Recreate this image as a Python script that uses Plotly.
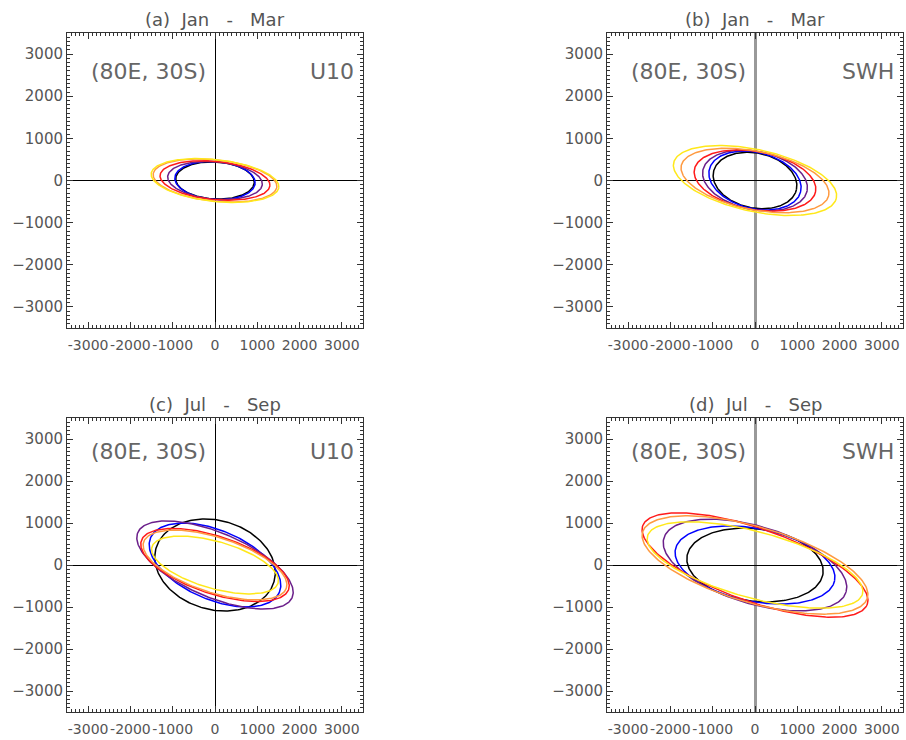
import numpy as np
import plotly.graph_objects as go
from plotly.subplots import make_subplots

# ---- data: ellipse parameters (semi-major, semi-minor, orientation in degrees) ----
series_colors = ["#000000", "#0000ff", "#6b1f8a", "#ff1a1a", "#ff9a40", "#ffe81a"]

panel_titles = ["(a)\u00a0\u00a0Jan\u00a0\u00a0\u00a0-\u00a0\u00a0\u00a0Mar",
                "(b)\u00a0\u00a0Jan\u00a0\u00a0\u00a0-\u00a0\u00a0\u00a0Mar",
                "(c)\u00a0\u00a0Jul\u00a0\u00a0\u00a0-\u00a0\u00a0\u00a0Sep",
                "(d)\u00a0\u00a0Jul\u00a0\u00a0\u00a0-\u00a0\u00a0\u00a0Sep"]
panel_vars = ["U10", "SWH", "U10", "SWH"]
location_label = "(80E,\u00a030S)"

# panel (a) U10 Jan-Mar
a_major = [930, 952, 1123, 1305, 1470, 1518]
a_minor = [440, 451, 444, 454, 490, 496]
a_angle = [-3.0, -4.1, -4.9, -5.5, -6.0, -6.2]

# panel (b) SWH Jan-Mar
b_major = [1003, 1112, 1257, 1457, 1779, 1969]
b_minor = [651, 666, 690, 690, 693, 734]
b_angle = [-12.2, -13.9, -11.3, -10.3, -11.4, -12.3]

# panel (c) U10 Jul-Sep
c_major = [1451, 1656, 1982, 1836, 1775, 1553]
c_minor = [1061, 823, 769, 684, 656, 560]
c_angle = [-16.0, -23.2, -23.0, -18.4, -18.0, -16.1]

# panel (d) SWH Jul-Sep
d_major = [1621, 1919, 2248, 2815, 2772, 2634]
d_minor = [863, 868, 921, 869, 903, 790]
d_angle = [-7.1, -11.2, -16.6, -19.4, -16.5, -15.2]

tick_vals = [-3000, -2000, -1000, 0, 1000, 2000, 3000]
x_tick_text = ["-3000", "-2000", "-1000", "0", "1000", "2000", "3000"]
y_tick_text = ["\u22123000", "\u22122000", "\u22121000", "0", "1000", "2000", "3000"]
axis_range = [-3500, 3500]

panels = [(a_major, a_minor, a_angle), (b_major, b_minor, b_angle),
          (c_major, c_minor, c_angle), (d_major, d_minor, d_angle)]


def ellipse(a, b, ang_deg, n=241):
    t = np.linspace(0, 2 * np.pi, n)
    th = np.deg2rad(ang_deg)
    x = a * np.cos(t) * np.cos(th) - b * np.sin(t) * np.sin(th)
    y = a * np.cos(t) * np.sin(th) + b * np.sin(t) * np.cos(th)
    return x, y


fig = make_subplots(rows=2, cols=2)
positions = [(1, 1), (1, 2), (2, 1), (2, 2)]

for (maj, mino, ang), (r, c) in zip(panels, positions):
    for k in range(len(maj)):
        x, y = ellipse(maj[k], mino[k], ang[k])
        fig.add_trace(go.Scatter(x=x, y=y, mode="lines",
                                 line=dict(color=series_colors[k], width=1.5),
                                 showlegend=False, hoverinfo="skip"),
                      row=r, col=c)

W, H = 906, 740
xdoms = [[67 / W, 363 / W], [607 / W, 903 / W]]
ydoms = [[1 - 328 / H, 1 - 33 / H], [1 - 712 / H, 1 - 418 / H]]

for i, (r, c) in enumerate(positions):
    idx = "" if i == 0 else str(i + 1)
    vzero_col = "#000000" if c == 1 else "#999999"
    vzero_w = 1 if c == 1 else 3
    common = dict(range=axis_range, tickvals=tick_vals, ticks="inside", ticklen=6,
                  tickcolor="#333333", showline=True, linecolor="#333333", linewidth=1,
                  mirror="allticks", showgrid=False,
                  tickangle=0, automargin=False,
                  minor=dict(dtick=100, tick0=0, ticks="inside", ticklen=3,
                             tickcolor="#333333", showgrid=False))
    fig.layout["xaxis" + idx].update(domain=xdoms[c - 1], zeroline=True,
                                     zerolinecolor=vzero_col, zerolinewidth=vzero_w,
                                     ticktext=x_tick_text, ticklabelstandoff=4,
                                     tickfont=dict(family="DejaVu Sans", size=14, color="#555555"),
                                     **common)
    fig.layout["yaxis" + idx].update(domain=ydoms[r - 1], zeroline=True,
                                     zerolinecolor="#000000", zerolinewidth=1,
                                     ticktext=y_tick_text,
                                     tickfont=dict(family="DejaVu Sans", size=15, color="#555555"),
                                     **common)
    xr = "x" + idx + " domain"
    yr = "y" + idx + " domain"
    ty = 0.87 if r == 1 else 0.885
    fig.add_annotation(xref=xr, yref=yr, x=0.5, y=1.046, text=panel_titles[i],
                       showarrow=False, xanchor="center", yanchor="middle",
                       font=dict(family="DejaVu Sans", size=18, color="#555555"))
    fig.add_annotation(xref=xr, yref=yr, x=0.274, y=ty, text=location_label,
                       showarrow=False, xanchor="center", yanchor="middle",
                       font=dict(family="DejaVu Sans", size=22, color="#666666"))
    fig.add_annotation(xref=xr, yref=yr, x=0.975, y=ty, text=panel_vars[i],
                       showarrow=False, xanchor="right", yanchor="middle",
                       font=dict(family="DejaVu Sans", size=22, color="#666666"))

fig.update_layout(width=W, height=H, margin=dict(l=0, r=0, t=0, b=0),
                  plot_bgcolor="white", paper_bgcolor="white",
                  font=dict(family="DejaVu Sans", color="#555555"))

fig.write_html("out.html")
